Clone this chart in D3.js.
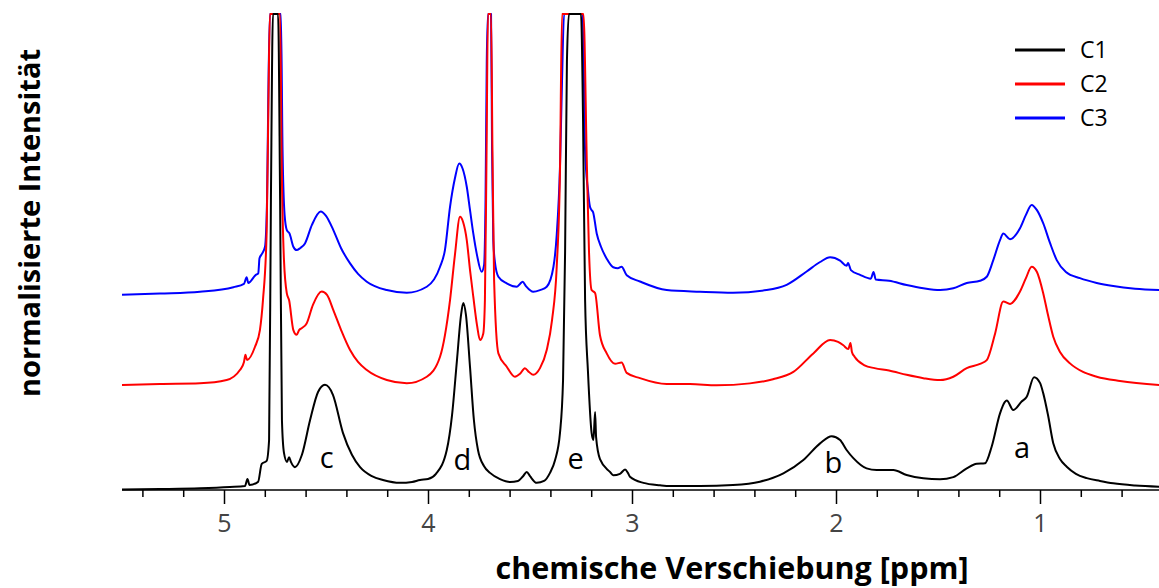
<!DOCTYPE html>
<html>
<head>
<meta charset="utf-8">
<script src="https://cdn.jsdelivr.net/npm/d3@7"></script>
<style>
  html, body { margin: 0; padding: 0; background: #fff; }
  svg { display: block; font-family: "Open Sans", "Noto Sans", sans-serif; }
</style>
</head>
<body>
<svg id="chart" width="1159" height="588"></svg>
<script>
// 1H NMR spectra of three samples, [chemical shift (ppm), normalised intensity]
const seriesNames = ["C1", "C2", "C3"];
const seriesColors = ["#000000", "#ff0000", "#0000ff"];
const stackOffsets = [0, 22, 41];   // vertical stacking of the spectra, intensity units

const c1 = [
  [5.500,0.1],[5.314,0.2],[5.118,0.36],[4.971,0.63],[4.897,0.84],[4.885,2.3],[4.875,1.05],
  [4.833,1.7],[4.815,5.5],[4.791,6.1],[4.779,10.5],[4.770,61],[4.760,140],[4.748,160],
  [4.735,140],[4.725,61],[4.716,14.7],[4.706,7.8],[4.691,5.9],[4.681,6.9],[4.672,5.9],
  [4.652,4.8],[4.618,7.4],[4.578,14.7],[4.539,20.6],[4.505,22.1],[4.466,20.0],[4.417,12.0],
  [4.373,7.4],[4.333,4.8],[4.275,2.9],[4.221,2.1],[4.137,1.5],[4.078,1.7],[4.039,2.1],
  [4.000,2.3],[3.961,3.4],[3.908,8.4],[3.882,15.8],[3.858,27.3],[3.838,36.8],[3.827,39.3],
  [3.814,36.8],[3.794,25.8],[3.775,14.7],[3.755,8.4],[3.725,5.0],[3.696,3.6],[3.647,2.3],
  [3.598,1.7],[3.559,1.9],[3.534,2.9],[3.516,3.8],[3.500,2.9],[3.467,1.5],[3.431,1.9],
  [3.402,3.6],[3.377,6.3],[3.353,12.0],[3.338,23.1],[3.328,50],[3.319,90],[3.309,140],
  [3.279,170],[3.250,140],[3.240,78],[3.230,40],[3.216,25],[3.198,12.0],[3.189,10.5],
  [3.181,16.4],[3.176,11.1],[3.157,6.5],[3.108,3.8],[3.092,3.1],[3.059,3.4],[3.034,4.3],
  [3.020,3.6],[3.010,2.8],[2.944,1.5],[2.863,1.0],[2.814,0.84],[2.667,0.84],[2.505,1.05],
  [2.373,1.75],[2.258,3.5],[2.160,6.3],[2.078,9.8],[2.021,11.3],[1.980,10.5],[1.948,8.4],
  [1.915,6.7],[1.850,4.55],[1.801,4.2],[1.719,4.2],[1.654,3.15],[1.572,2.45],[1.490,2.25],
  [1.425,2.7],[1.359,4.55],[1.310,5.5],[1.270,5.6],[1.237,9.1],[1.196,16.1],[1.172,18.5],
  [1.163,18.8],[1.131,16.8],[1.090,18.6],[1.065,19.6],[1.029,23.7],[1.000,22.5],
  [0.984,20.3],[0.961,15.8],[0.935,9.8],[0.902,6.5],[0.869,4.9],[0.824,3.4],[0.771,2.5],
  [0.706,1.9],[0.641,1.4],[0.534,0.95],[0.412,0.7]
];

const c2 = [
  [5.500,0.06],[5.314,0.27],[5.118,0.42],[4.987,1.1],[4.922,3.2],[4.902,4.9],[4.895,6.4],
  [4.887,5.3],[4.848,8.1],[4.824,11.6],[4.809,17.9],[4.791,32],[4.782,60],[4.775,140],
  [4.750,160],[4.725,140],[4.717,45.9],[4.706,26.3],[4.692,19.3],[4.681,17.9],[4.660,11.6],
  [4.644,10.6],[4.632,11.6],[4.619,12.0],[4.595,13.0],[4.564,16.9],[4.521,19.7],[4.495,19.0],
  [4.464,15.8],[4.426,11.6],[4.382,7.4],[4.343,4.9],[4.300,3.2],[4.202,1.1],[4.104,0.42],
  [4.006,1.8],[3.941,6.0],[3.892,17.9],[3.868,27.4],[3.843,35.4],[3.828,34.3],[3.810,30.5],
  [3.794,24.2],[3.778,18.6],[3.760,12.7],[3.745,9.5],[3.729,10.9],[3.721,17.9],[3.713,49],
  [3.706,140],[3.700,160],[3.691,140],[3.684,49],[3.676,22.1],[3.655,6.7],[3.614,3.9],
  [3.574,1.8],[3.549,2.4],[3.525,3.6],[3.505,2.8],[3.484,2.2],[3.451,3.6],[3.418,7.4],
  [3.392,13.7],[3.369,24.9],[3.353,45],[3.343,100],[3.328,140],[3.284,170],[3.238,140],
  [3.221,45.9],[3.211,28.4],[3.198,20.0],[3.181,19.4],[3.157,10.5],[3.124,6.7],[3.083,4.5],
  [3.051,4.8],[3.026,2.6],[2.961,1.5],[2.830,0.27],[2.716,0.27],[2.585,0],[2.422,0.4],
  [2.309,1.25],[2.209,2.8],[2.111,6.7],[2.029,9.5],[1.990,9.1],[1.964,8.4],[1.940,7.6],
  [1.929,8.9],[1.922,7.0],[1.909,6.0],[1.860,4.2],[1.811,3.6],[1.740,3.1],[1.654,2.2],
  [1.572,1.5],[1.490,1.1],[1.425,1.8],[1.359,3.6],[1.294,4.5],[1.261,5.3],[1.220,10.9],
  [1.180,17.6],[1.147,17.1],[1.098,19.7],[1.069,22.5],[1.041,24.9],
  [1.015,23.8],[0.984,19.3],[0.961,14.8],[0.935,10.2],[0.902,7.0],[0.853,4.6],[0.789,2.8],
  [0.722,1.8],[0.608,0.9],[0.412,0.06]
];

const c3 = [
  [5.500,0],[5.314,0.27],[5.118,0.65],[4.954,1.6],[4.902,2.3],[4.889,3.7],[4.881,2.5],
  [4.844,4.2],[4.832,4.5],[4.826,7.7],[4.814,8.6],[4.799,10.1],[4.789,19.9],[4.783,41],
  [4.775,140],[4.750,160],[4.721,140],[4.713,30.4],[4.703,16.8],[4.692,13.6],[4.679,12.9],
  [4.660,10.1],[4.644,9.4],[4.627,9.8],[4.603,10.8],[4.569,14.7],[4.526,17.5],[4.500,16.6],
  [4.464,13.6],[4.426,9.8],[4.382,6.6],[4.343,4.4],[4.300,2.75],[4.202,1.0],[4.104,0.44],
  [4.006,1.7],[3.941,5.9],[3.917,9.4],[3.892,18.5],[3.868,24.5],[3.847,27.6],[3.831,26.6],
  [3.810,22.7],[3.794,17.8],[3.778,12.9],[3.760,8.4],[3.737,4.85],[3.725,6.3],[3.718,19.9],
  [3.712,49],[3.706,140],[3.698,160],[3.691,140],[3.686,30.4],[3.680,11.5],[3.672,6.9],
  [3.655,3.8],[3.614,2.4],[3.565,1.7],[3.549,2.3],[3.536,2.75],[3.520,1.85],[3.484,0.65],
  [3.451,1.0],[3.418,1.7],[3.385,5.9],[3.369,12.6],[3.353,26.9],[3.343,45],[3.333,140],
  [3.289,170],[3.242,140],[3.230,30.4],[3.216,22.0],[3.206,18.5],[3.198,17.8],[3.191,17.4],
  [3.173,12.9],[3.152,10.1],[3.124,7.6],[3.092,5.8],[3.069,5.6],[3.051,5.9],[3.026,4.1],
  [2.961,2.8],[2.830,1.0],[2.667,0.65],[2.505,0.44],[2.340,1.0],[2.242,2.1],[2.144,4.9],
  [2.078,6.9],[2.029,7.9],[1.980,7.2],[1.948,6.1],[1.941,6.7],[1.927,5.2],[1.882,4.2],
  [1.829,3.4],[1.816,4.8],[1.805,3.2],[1.740,2.95],[1.654,2.05],[1.572,1.37],[1.490,1.0],
  [1.425,1.37],[1.359,2.5],[1.294,2.95],[1.261,3.8],[1.229,7.3],[1.196,11.5],[1.180,12.9],
  [1.147,11.7],[1.098,14.0],[1.069,16.8],[1.041,18.9],[1.015,17.8],[0.984,15.0],[0.951,10.9],
  [0.918,7.3],[0.873,4.8],[0.804,3.5],[0.722,2.5],[0.641,1.85],[0.534,1.3],[0.412,1.0]
];

const spectra = [c1, c2, c3];

// peak assignments: label, shift (ppm), label baseline (intensity units)
const peakLabels = ["a", "b", "c", "d", "e"];
const peakShifts = [1.088, 2.013, 4.497, 3.832, 3.276];
const peakLabelLevels = [6.7, 3.6, 4.6, 4.2, 4.4];

const majorTicks = [5, 4, 3, 2, 1];

const svg = d3.select("#chart");

// reversed chemical shift axis, intensity clamped at the top of the frame
const x = d3.scaleLinear().domain([5.5, 0.4]).range([122, 1162.4]);
const y = d3.scaleLinear().domain([0, 100]).range([490, 14]).clamp(true);

const line = d3.line()
  .x(d => x(d[0]))
  .y(d => y(d[1] + d.offset))
  .curve(d3.curveMonotoneX);

// draw C3 first so C1 ends up on top
[2, 1, 0].forEach(i => {
  const pts = spectra[i].map(p => { const q = [p[0], p[1]]; q.offset = stackOffsets[i]; return q; });
  svg.append("path")
    .datum(pts)
    .attr("fill", "none")
    .attr("stroke", seriesColors[i])
    .attr("stroke-width", 2)
    .attr("stroke-linejoin", "round")
    .attr("d", line);
});

// peak letters
svg.append("g").selectAll("text")
  .data(peakLabels)
  .join("text")
  .attr("x", (d, i) => x(peakShifts[i]))
  .attr("y", (d, i) => y(peakLabelLevels[i]))
  .attr("text-anchor", "middle")
  .attr("font-size", 29)
  .attr("fill", "#000")
  .text(d => d);

// x axis: minor ticks every 0.2 ppm, labelled majors every 1 ppm
const minorTicks = d3.range(5.4, 0.39, -0.2).map(v => +v.toFixed(1)).filter(v => Math.abs(v - Math.round(v)) > 1e-6);

const axisG = svg.append("g").attr("transform", "translate(0,490)");
axisG.append("line")
  .attr("x1", 122).attr("x2", 1159)
  .attr("stroke", "#000").attr("stroke-width", 1.5);

axisG.append("g")
  .call(d3.axisBottom(x).tickValues(minorTicks).tickSize(7).tickFormat(""))
  .call(g => g.select(".domain").remove())
  .call(g => g.selectAll(".tick line").attr("stroke", "#000").attr("stroke-width", 1.5));

axisG.append("g")
  .call(d3.axisBottom(x).tickValues(majorTicks).tickSize(14).tickPadding(10).tickFormat(d3.format("d")))
  .call(g => g.select(".domain").remove())
  .call(g => g.selectAll(".tick line").attr("stroke", "#000").attr("stroke-width", 1.5))
  .call(g => g.selectAll(".tick text")
    .attr("font-family", "'Open Sans', 'Noto Sans', sans-serif")
    .attr("font-size", 25)
    .attr("fill", "#444"));

// axis titles
svg.append("text")
  .attr("x", 732).attr("y", 579)
  .attr("text-anchor", "middle")
  .attr("font-size", 30.5)
  .attr("font-weight", "bold")
  .attr("fill", "#000")
  .text("chemische Verschiebung [ppm]");

svg.append("text")
  .attr("transform", "translate(40,223) rotate(-90)")
  .attr("text-anchor", "middle")
  .attr("font-size", 29)
  .attr("font-weight", "bold")
  .attr("fill", "#000")
  .text("normalisierte Intensität");

// legend
const legend = svg.append("g").attr("transform", "translate(1015,50)");
seriesNames.forEach((name, i) => {
  const row = legend.append("g").attr("transform", `translate(0,${i * 34})`);
  row.append("line")
    .attr("x1", 0).attr("x2", 50)
    .attr("stroke", seriesColors[i]).attr("stroke-width", 3);
  row.append("text")
    .attr("x", 65).attr("y", 0).attr("dy", "0.36em")
    .attr("font-size", 23)
    .attr("fill", "#000")
    .text(name);
});
</script>
</body>
</html>
